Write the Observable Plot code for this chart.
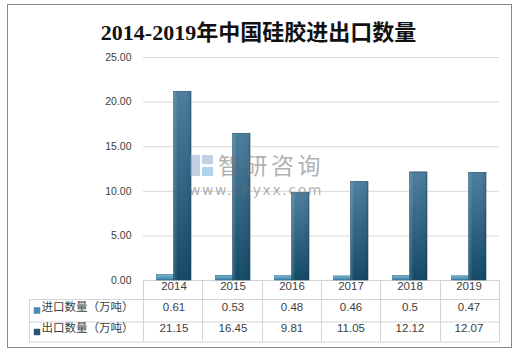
<!DOCTYPE html>
<html>
<head>
<meta charset="utf-8">
<script src="https://cdn.jsdelivr.net/npm/d3@7"></script>
<script src="https://cdn.jsdelivr.net/npm/@observablehq/plot@0.6"></script>
<style>
  html, body { margin: 0; padding: 0; background: #fff; }
  #wrap { position: relative; width: 517px; height: 352px; overflow: hidden; }
  #border { position: absolute; left: 7px; top: 4px; width: 503px; height: 342px; border: 1.5px solid #8a8a8a; box-sizing: content-box; }
  #title { position: absolute; left: 0; width: 517px; top: 14px; text-align: center; font-family: "Liberation Serif", "Noto Sans CJK SC", serif; font-weight: bold; font-size: 22px; color: #111; white-space: nowrap; }
  #chart { position: absolute; left: 0; top: 0; }
  .wm { position: absolute; color: rgba(110,110,110,0.55); white-space: nowrap; }
</style>
</head>
<body>
<div id="wrap">
  <div id="border"></div>
  <div id="chart"></div>
  <div class="wm" style="left:190px;top:155px;width:10px;height:21px;background:rgba(120,150,200,0.45);"></div>
  <div class="wm" style="left:202px;top:155px;width:11px;height:9px;background:rgba(120,150,200,0.45);"></div>
  <div class="wm" style="left:202px;top:167px;width:11px;height:9px;background:rgba(100,170,220,0.5);"></div>
  <div class="wm" style="left:218px;top:153px;font-family:'Noto Sans CJK SC',sans-serif;font-size:23px;line-height:23px;letter-spacing:3.5px;">智研咨询</div>
  <div class="wm" style="left:189px;top:183px;font-family:'DejaVu Sans',sans-serif;font-size:14px;line-height:15px;letter-spacing:1.6px;">www.chyxx.com</div>
  <div id="title">2014-2019年中国硅胶进出口数量</div>
</div>
<script>
const years = ["2014", "2015", "2016", "2017", "2018", "2019"];
const importVals = [0.61, 0.53, 0.48, 0.46, 0.5, 0.47];
const exportVals = [21.15, 16.45, 9.81, 11.05, 12.12, 12.07];
const seriesNames = ["进口数量（万吨）", "出口数量（万吨）"];
const yTicks = [0, 5, 10, 15, 20, 25];

const rows = years.map((y, i) => ({year: y, imp: importVals[i], exp: exportVals[i]}));

const textColor = "#404040";
const gridColor = "#d9d9d9";
const impColor = "#4a8db3";
const expColor = "#1f5574";

function defs() {
  const svg = d3.create("svg:defs");
  const g1 = svg.append("linearGradient").attr("id", "gExp").attr("x1", 0).attr("y1", 0).attr("x2", 0).attr("y2", 1);
  g1.append("stop").attr("offset", "0%").attr("stop-color", "#4c7e9f");
  g1.append("stop").attr("offset", "100%").attr("stop-color", "#114966");
  const g2 = svg.append("linearGradient").attr("id", "gImp").attr("x1", 0).attr("y1", 0).attr("x2", 0).attr("y2", 1);
  g2.append("stop").attr("offset", "0%").attr("stop-color", "#7db6d4");
  g2.append("stop").attr("offset", "100%").attr("stop-color", "#3d7fa4");
  const h = svg.append("linearGradient").attr("id", "gHi").attr("x1", 0).attr("y1", 0).attr("x2", 1).attr("y2", 0);
  h.append("stop").attr("offset", "0%").attr("stop-color", "#fff").attr("stop-opacity", 0.18);
  h.append("stop").attr("offset", "25%").attr("stop-color", "#fff").attr("stop-opacity", 0.0);
  h.append("stop").attr("offset", "100%").attr("stop-color", "#000").attr("stop-opacity", 0.08);
  return svg.node();
}

function tableGrid(index, scales, values, dims) {
  const {width, height, marginLeft, marginRight, marginBottom} = dims;
  const x0 = marginLeft, x1 = width - marginRight, y0 = height - marginBottom;
  const step = (x1 - x0) / years.length;
  const left = 29;
  const ys = [y0 + 19.5, y0 + 42, y0 + 62];
  const g = d3.create("svg:g").attr("stroke", "#d4d4d4").attr("stroke-width", 1).attr("fill", "none");
  g.append("line").attr("x1", x0).attr("x2", x1).attr("y1", y0 + 0.5).attr("y2", y0 + 0.5);
  for (const y of ys) g.append("line").attr("x1", left).attr("x2", x1).attr("y1", y).attr("y2", y);
  for (let i = 0; i <= years.length; i++) {
    const x = Math.round(x0 + i * step) + 0.5;
    g.append("line").attr("x1", x).attr("x2", x).attr("y1", y0).attr("y2", ys[2]);
  }
  g.append("line").attr("x1", left + 0.5).attr("x2", left + 0.5).attr("y1", ys[0]).attr("y2", ys[2]);
  return g.node();
}

const plot = Plot.plot({
  width: 517,
  height: 352,
  marginTop: 57,
  marginBottom: 72,
  marginLeft: 143,
  marginRight: 18,
  style: {fontFamily: "'Liberation Sans', 'Noto Sans CJK SC', sans-serif", fontSize: "11px", color: textColor, background: "transparent", overflow: "visible"},
  x: {type: "band", domain: years, padding: 0, axis: null},
  y: {domain: [0, 25], axis: null},
  marks: [
    defs,
    Plot.ruleY(yTicks.filter(d => d > 0), {stroke: gridColor, strokeWidth: 1}),
    Plot.axisY(yTicks, {anchor: "left", tickSize: 0, tickPadding: 12, tickFormat: d3.format(".2f"), fontSize: 10.5, fill: textColor, label: null}),
    tableGrid,
    Plot.barY(rows, {x: "year", y: "imp", fill: "url(#gImp)", stroke: "#2f6f93", strokeWidth: 0.6, insetLeft: 12.5, insetRight: 29.5}),
    Plot.barY(rows, {x: "year", y: "exp", fill: "url(#gExp)", stroke: "#1b4862", strokeWidth: 0.6, insetLeft: 29.5, insetRight: 12}),
    Plot.barY(rows, {x: "year", y: "exp", fill: "url(#gHi)", insetLeft: 29.5, insetRight: 12}),
    Plot.text(rows, {x: "year", text: "year", frameAnchor: "bottom", dy: 9.5, fontSize: 11.5, fill: textColor}),
    Plot.text(rows, {x: "year", text: d => String(d.imp), frameAnchor: "bottom", dy: 30, fontSize: 11.5, fill: textColor}),
    Plot.text(rows, {x: "year", text: d => String(d.exp), frameAnchor: "bottom", dy: 51.5, fontSize: 11.5, fill: textColor}),
    Plot.dot([seriesNames[0]], {frameAnchor: "bottom-left", dx: -106.5, dy: 30, symbol: "square", r: 3.3, fill: impColor, stroke: "#2f6f93", strokeWidth: 0.5}),
    Plot.dot([seriesNames[1]], {frameAnchor: "bottom-left", dx: -106.5, dy: 51.5, symbol: "square", r: 3.3, fill: expColor, stroke: "#173f56", strokeWidth: 0.5}),
    Plot.text([seriesNames[0]], {text: d => d, frameAnchor: "bottom-left", dx: -102, dy: 30, textAnchor: "start", fontSize: 11.5, fill: textColor, fontFamily: "'Noto Sans CJK SC', sans-serif"}),
    Plot.text([seriesNames[1]], {text: d => d, frameAnchor: "bottom-left", dx: -102, dy: 51.5, textAnchor: "start", fontSize: 11.5, fill: textColor, fontFamily: "'Noto Sans CJK SC', sans-serif"})
  ]
});
document.getElementById("chart").appendChild(plot);
</script>
</body>
</html>
